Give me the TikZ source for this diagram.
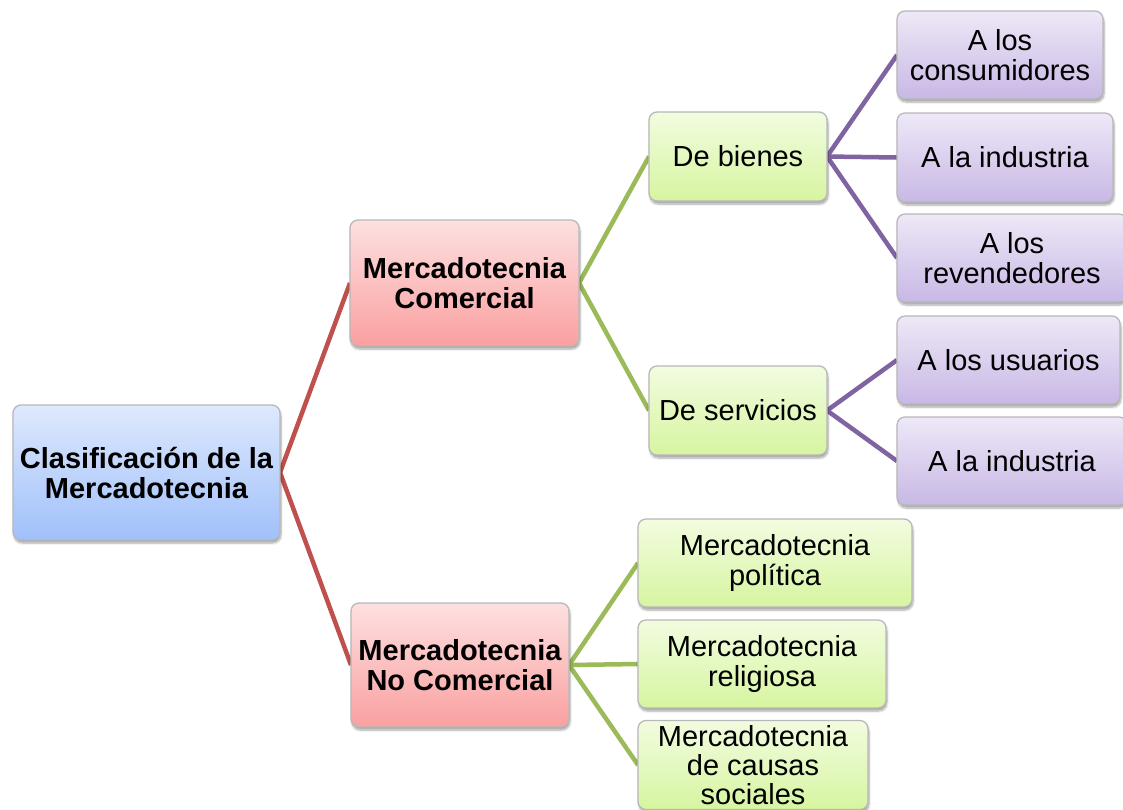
\documentclass[tikz,border=0pt]{standalone}
\usepackage{fontspec}
\setmainfont{Liberation Sans}
\usetikzlibrary{shadows.blur,backgrounds}
\definecolor{linered}{HTML}{C0504D}
\definecolor{linegreen}{HTML}{9BBB59}
\definecolor{linepurple}{HTML}{8064A2}
\definecolor{bluetop}{RGB}{222,233,253}
\definecolor{bluebot}{RGB}{160,192,250}
\definecolor{pinktop}{RGB}{253,224,224}
\definecolor{pinkbot}{RGB}{250,160,160}
\definecolor{greentop}{RGB}{242,252,224}
\definecolor{greenbot}{RGB}{214,245,160}
\definecolor{purpletop}{RGB}{238,232,247}
\definecolor{purplebot}{RGB}{200,184,229}
\begin{document}
\begin{tikzpicture}[x=1pt,y=-1pt,
  box/.style={rectangle, rounded corners=8pt, draw=black!28, line width=1.3pt,
    inner sep=0pt, outer sep=0pt, align=center,
    font=\fontsize{29}{30}\selectfont,
    blur shadow={shadow xshift=1pt, shadow yshift=-3pt, shadow blur steps=6, shadow opacity=35}},
  bluebox/.style={box, top color=bluetop, bottom color=bluebot, font=\fontsize{29}{30}\selectfont\bfseries},
  pinkbox/.style={box, top color=pinktop, bottom color=pinkbot, font=\fontsize{29}{30}\selectfont\bfseries},
  greenbox/.style={box, top color=greentop, bottom color=greenbot},
  purplebox/.style={box, top color=purpletop, bottom color=purplebot},
  redline/.style={draw=linered, line width=4.5pt},
  greenline/.style={draw=linegreen, line width=4.5pt},
  purpleline/.style={draw=linepurple, line width=4.5pt}
]
\useasboundingbox (0,0) rectangle (1123,809);

\node[bluebox, minimum width=267pt, minimum height=135pt] (root) at (146.5,472.5) {Clasificación de la\\Mercadotecnia};
\node[pinkbox, minimum width=229pt, minimum height=126pt] (com) at (464.5,283) {Mercadotecnia\\Comercial};
\node[pinkbox, minimum width=218pt, minimum height=124pt] (ncom) at (460,665) {Mercadotecnia\\No Comercial};

\node[greenbox, minimum width=178pt, minimum height=89pt] (bienes) at (738,156.5) {De bienes};
\node[greenbox, minimum width=178pt, minimum height=89pt] (serv) at (738,410.5) {De servicios};

\node[purplebox, minimum width=206pt, minimum height=88pt] (cons) at (1000,55) {A los\\consumidores};
\node[purplebox, minimum width=216pt, minimum height=89pt] (ind1) at (1005,157.5) {A la industria};
\node[purplebox, minimum width=230pt, minimum height=88pt] (rev) at (1012,258) {A los\\revendedores};
\node[purplebox, minimum width=223pt, minimum height=88pt] (usu) at (1008.5,360) {A los usuarios};
\node[purplebox, minimum width=230pt, minimum height=88pt] (ind2) at (1012,461) {A la industria};

\node[greenbox, minimum width=274pt, minimum height=88pt] (pol) at (775,563) {Mercadotecnia\\política};
\node[greenbox, minimum width=248pt, minimum height=88pt] (rel) at (762,664) {Mercadotecnia\\religiosa};
\node[greenbox, minimum width=230pt, minimum height=89pt, font=\fontsize{29}{29}\selectfont] (caus) at (753,765) {Mercadotecnia\\de causas\\sociales};

\begin{scope}[on background layer]
  \draw[redline] (root.east) -- (com.west);
  \draw[redline] (root.east) -- (ncom.west);
  \draw[greenline] (com.east) -- (bienes.west);
  \draw[greenline] (com.east) -- (serv.west);
  \draw[greenline] (ncom.east) -- (pol.west);
  \draw[greenline] (ncom.east) -- (rel.west);
  \draw[greenline] (ncom.east) -- (caus.west);
  \draw[purpleline] (bienes.east) -- (cons.west);
  \draw[purpleline] (bienes.east) -- (ind1.west);
  \draw[purpleline] (bienes.east) -- (rev.west);
  \draw[purpleline] (serv.east) -- (usu.west);
  \draw[purpleline] (serv.east) -- (ind2.west);
\end{scope}
\end{tikzpicture}
\end{document}
